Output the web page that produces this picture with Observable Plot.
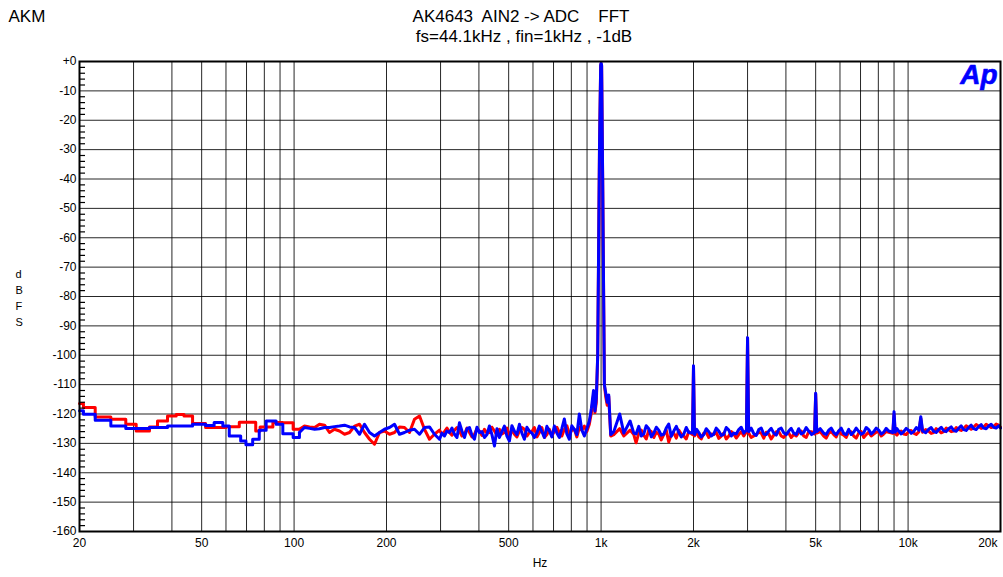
<!DOCTYPE html>
<html><head><meta charset="utf-8">
<script src="https://cdn.jsdelivr.net/npm/d3@7"></script>
<script src="https://cdn.jsdelivr.net/npm/@observablehq/plot@0.6"></script>
<style>
body{margin:0;background:#fff;}
svg text{white-space:pre;}
</style></head><body><div id="chart"></div>
<script>
// ---- Data ----
const lowFreqRed = [20, 20.6, 22.5, 25.3, 28.3, 30.6, 33.8, 35.9, 38.7, 41.3, 43.8, 46.7, 51.5, 60.0, 66.3, 75.0, 77.5, 85.3, 92.0, 99.3];
const lowDbRed   = [-116.4, -117.8, -121.0, -121.8, -123.5, -125.8, -124.4, -122.4, -120.7, -120.2, -120.7, -123.2, -124.6, -124.3, -122.8, -125.8, -124.4, -122.9, -123.0, -125.2];
const lowFreqBlue = [20, 20.6, 22.5, 25.3, 28.3, 33.8, 38.7, 46.7, 51.5, 54.9, 58.6, 61.5, 67.0, 69.7, 73.3, 77.0, 81.1, 87.4, 91.9, 99.3];
const lowDbBlue   = [-118.9, -120.1, -122.1, -124.1, -124.9, -124.6, -124.1, -123.5, -123.9, -122.9, -124.1, -127.5, -129.2, -130.5, -128.6, -125.5, -122.4, -123.5, -126.7, -128.0];

const midFreq = [104.1,108.1,112.3,116.6,121.0,125.7,130.4,135.4,140.6,146.0,151.6,157.4,163.4,169.6,176.1,182.8,189.8,197.0,204.6,212.4,220.5,228.9,237.7,246.7,256.2,265.9,276.1,286.6,297.6,308.9,320.7,333.0,345.7,358.9,372.6,386.8,401.6,416.9,432.8,449.4,466.5,484.3,502.8,522.0,541.9,562.6,584.1,606.4,629.5,653.6,678.5,704.4,731.3,759.2,788.2,818.3,849.6,882.0,915.6];
const midDbRed = [-125.2,-124.1,-124.4,-124.6,-123.5,-123.8,-126.3,-125.2,-125.8,-126.9,-126.3,-124.1,-123.5,-126.3,-128.6,-130.3,-126.3,-125.8,-126.9,-126.3,-124.4,-124.6,-126.3,-121.8,-120.7,-125.2,-128.6,-126.9,-125.5,-126.0,-126.3,-125.5,-125.8,-126.9,-126.3,-126.9,-125.8,-125.2,-126.3,-125.8,-125.2,-126.3,-127.5,-126.9,-125.8,-125.2,-126.3,-124.6,-126.3,-128.0,-125.2,-125.8,-126.3,-125.2,-126.9,-125.2,-124.6,-124.1,-123.5];
const midDbBlue = [-126.3,-124.6,-124.9,-125.2,-125.0,-124.6,-124.6,-124.3,-124.1,-123.8,-124.4,-124.6,-126.9,-123.5,-126.3,-127.5,-126.3,-125.2,-124.6,-123.5,-126.9,-126.3,-125.5,-125.2,-126.9,-124.6,-124.4,-126.9,-128.6,-127.5,-126.3,-126.9,-123.0,-128.0,-124.6,-128.6,-126.3,-128.0,-124.1,-130.9,-128.0,-124.1,-129.2,-125.8,-123.5,-128.6,-125.8,-128.0,-124.1,-128.0,-125.8,-124.1,-128.0,-121.7,-128.6,-125.2,-120.0,-127.5,-122.4];

// in-between readings of the dense noise, 300 Hz – 900 Hz
const midFreq2 = [303.2,314.7,326.8,339.3,352.2,365.7,379.7,394.1,409.2,424.8,441.0,457.9,475.3,493.5,512.3,531.9,552.2,573.3,595.2,617.9,641.4,666.0,691.3,717.7,745.1,773.6,803.1,833.8,865.7,898.7];
const midDbRed2 = [-127.0,-124.8,-127.2,-124.6,-127.5,-124.8,-127.8,-125.0,-127.3,-126.5,-124.5,-127.2,-126.8,-124.8,-125.5,-127.8,-124.6,-127.5,-126.0,-127.8,-124.6,-127.0,-127.5,-124.5,-127.5,-124.0,-125.5,-127.8,-125.5,-126.0];
const midDbBlue2 = [-126.5,-125.8,-124.8,-128.0,-125.8,-125.0,-127.2,-124.5,-126.0,-127.0,-127.0,-125.0,-126.0,-127.5,-124.0,-127.0,-126.5,-124.5,-126.5,-126.5,-126.0,-124.2,-127.8,-126.5,-125.0,-126.8,-124.0,-127.0,-125.5,-125.0];

const peakFreq   = [930, 945, 955, 965, 975, 988, 997, 1000, 1004, 1012, 1025, 1035, 1047, 1059, 1075];
const peakDbRed  = [-119.5, -113.5, -119.5, -116, -100, -30, -1.5, -0.8, -1.5, -40, -110, -114, -117, -114, -127.5];
const peakDbBlue = [-118, -112, -119, -114.5, -100, -30, -1.2, -0.5, -1.2, -40, -110, -112.7, -116, -113.5, -127];

const highFreq = [1100,1150,1186,1243,1278,1300,1327,1377,1430,1485,
  1541,1600,1661,1725,1791,1859,1930,1985,2000,2015,
  2081,2160,2243,2328,2417,2510,2606,2705,2808,2916,
  2975,3000,3025,3143,3263,3387,3517,3651,3790,3935,
  4085,4241,4403,4572,4746,4960,5000,5040,5311,5514,
  5725,5943,6170,6406,6651,6905,7169,7442,7727,8022,
  8328,8646,8920,9000,9080,9319,9675,10045,10429,10850,
  11000,11150,11670,12116,12579,13059,13558,14076,14614,15172,
  15752,16353,16978,17627,18300,19000,19725,20000];
const highDbBlue = [-126.0,-120.0,-126.5,-122.4,-126.5,-126.8,-124.2,-126.8,-125.0,-126.5,
  -125.5,-126.9,-123.4,-125.8,-126.3,-126.9,-126.3,-126.5,-103.6,-127.0,
  -126.3,-127.0,-126.0,-126.8,-125.8,-126.9,-125.5,-126.5,-125.3,-126.5,
  -125.5,-94.0,-126.0,-126.7,-125.3,-126.8,-125.8,-126.5,-125.2,-126.4,
  -125.8,-126.5,-125.0,-126.3,-125.8,-126.3,-112.9,-126.0,-126.5,-125.5,
  -126.3,-125.8,-126.6,-125.2,-126.2,-125.9,-126.4,-125.3,-126.0,-125.5,
  -126.2,-125.8,-126.3,-119.2,-126.2,-125.8,-126.0,-125.6,-126.0,-125.5,
  -120.9,-125.8,-125.2,-125.9,-125.3,-125.7,-125.0,-125.6,-124.9,-125.3,
  -124.6,-125.0,-124.3,-124.8,-124.1,-124.5,-124.0,-124.8];
const highDbRed = [-127.0,-125.0,-127.5,-125.5,-127.0,-129.8,-126.5,-127.2,-125.5,-128.0,
  -126.8,-127.0,-129.5,-126.5,-125.5,-127.5,-126.0,-127.0,-103.8,-127.5,
  -127.8,-126.5,-128.0,-127.0,-128.3,-126.5,-127.5,-126.8,-127.0,-127.5,
  -126.0,-94.2,-126.5,-127.5,-126.2,-128.2,-126.8,-127.2,-126.0,-128.0,
  -126.5,-127.0,-126.3,-127.5,-126.0,-126.8,-113.2,-126.5,-127.5,-126.5,
  -127.0,-125.8,-127.2,-126.0,-127.5,-126.5,-128.0,-126.2,-126.8,-126.0,
  -126.8,-126.2,-126.6,-120.0,-126.7,-126.3,-126.8,-126.0,-126.5,-126.0,
  -121.5,-126.2,-125.8,-126.3,-125.6,-126.0,-125.4,-125.8,-125.3,-125.0,
  -124.6,-124.5,-124.2,-124.5,-124.0,-124.3,-123.8,-124.5];

// in-between readings of the dense noise, 1.3 kHz – 20 kHz
const highFreq2 = [1352,1403,1457,1513,1570,1630,1693,1758,1825,1894,
  2048,2120,2201,2285,2372,2463,2557,2655,2756,2862,
  3083,3202,3324,3451,3583,3720,3862,4009,4162,4321,4487,4658,4850,
  5174,5411,5618,5833,6055,6287,6527,6777,7036,7304,7583,7873,8173,8485,
  9199,9495,9858,10235,10637,
  11410,11891,12346,12817,13306,13814,14343,14891,15459,16050,16663,17299,17960,18647,19359];
const highDbBlue2 = [-127.5,-124.0,-127.8,-124.5,-127.2,-124.8,-127.6,-124.2,-127.8,-124.6,
  -125.2,-127.8,-125.0,-127.5,-124.8,-127.3,-124.6,-127.5,-126.8,-124.5,
  -124.8,-127.3,-124.8,-127.0,-124.9,-127.2,-124.8,-127.0,-124.9,-127.0,-126.8,-124.6,-127.0,
  -125.0,-127.0,-124.8,-127.0,-124.8,-127.0,-127.0,-124.8,-126.9,-124.6,-126.8,-124.8,-126.8,-124.9,
  -125.0,-126.8,-124.9,-126.6,-124.6,
  -126.4,-124.6,-126.3,-124.5,-126.0,-124.4,-125.9,-124.0,-125.6,-123.8,-125.3,-123.6,-125.0,-123.5,-124.8];
const highDbRed2 = [-125.5,-128.5,-126.0,-126.2,-128.8,-125.5,-127.0,-128.2,-126.8,-128.5,
  -126.0,-128.5,-126.3,-126.8,-126.2,-127.5,-128.5,-126.0,-128.2,-126.0,
  -128.0,-127.0,-126.5,-126.2,-128.5,-126.0,-127.5,-126.8,-128.0,-127.5,-125.8,-128.0,-126.0,
  -126.0,-128.2,-126.0,-127.8,-126.8,-128.0,-126.0,-128.2,-126.0,-127.0,-127.5,-126.2,-127.5,-126.0,
  -127.2,-125.8,-127.0,-125.6,-127.0,
  -125.3,-126.6,-125.0,-126.4,-124.8,-126.0,-124.6,-125.6,-124.0,-125.2,-123.6,-124.9,-123.5,-124.6,-123.4];

// ---- Axes / grid ----
const xGrid = [30,40,50,60,70,80,90,100,200,300,400,500,600,700,800,900,1000,2000,3000,4000,5000,6000,7000,8000,9000,10000];
const xTicks = [20,50,100,200,500,1000,2000,5000,10000];
const xLabels = ["20","50","100","200","500","1k","2k","5k","10k"];
const xLastTick = [20000];
const xLastLabel = ["20k"];
const yTicks = [0,-10,-20,-30,-40,-50,-60,-70,-80,-90,-100,-110,-120,-130,-140,-150,-160];
const yLabels = ["+0","-10","-20","-30","-40","-50","-60","-70","-80","-90","-100","-110","-120","-130","-140","-150","-160"];
const yGrid = [-10,-20,-30,-40,-50,-60,-70,-80,-90,-100,-110,-120,-130,-140,-150];
const yMinor = [-2,-4,-6,-8,-12,-14,-16,-18,-22,-24,-26,-28,-32,-34,-36,-38,-42,-44,-46,-48,
  -52,-54,-56,-58,-62,-64,-66,-68,-72,-74,-76,-78,-82,-84,-86,-88,-92,-94,-96,-98,
  -102,-104,-106,-108,-112,-114,-116,-118,-122,-124,-126,-128,-132,-134,-136,-138,
  -142,-144,-146,-148,-152,-154,-156,-158];

const rows = (F, D) => F.map((f, i) => ({f, db: D[i]}));
const byF = (a, b) => a.f - b.f;
const redLow = rows(lowFreqRed, lowDbRed).concat(rows([midFreq[0]], [midDbRed[0]]));
const redRest = rows(midFreq, midDbRed).concat(rows(midFreq2, midDbRed2), rows(peakFreq, peakDbRed), rows(highFreq, highDbRed), rows(highFreq2, highDbRed2)).sort(byF);
const blueLow = rows(lowFreqBlue, lowDbBlue).concat(rows([midFreq[0]], [midDbBlue[0]]));
const blueRest = rows(midFreq, midDbBlue).concat(rows(midFreq2, midDbBlue2), rows(peakFreq, peakDbBlue), rows(highFreq, highDbBlue), rows(highFreq2, highDbBlue2)).sort(byF);

const RED = "#ff0000", BLUE = "#0000ff";
const font = "'Liberation Sans', Arial, Helvetica, sans-serif";
const plotW = 1003, mL = 79, mR = 3;
const minorTickLen = 6;

const chart = Plot.plot({
  width: plotW, height: 577,
  marginLeft: mL, marginRight: mR, marginTop: 61, marginBottom: 46,
  x: {type: "log", domain: [20, 20000], label: null, axis: null},
  y: {domain: [-160, 0], label: null, axis: null},
  style: {fontFamily: font, color: "#000", background: "#fff", overflow: "visible"},
  marks: [
    Plot.ruleX(xGrid, {stroke: "#000", strokeWidth: 1, strokeOpacity: 0.85}),
    Plot.ruleY(yGrid, {stroke: "#000", strokeWidth: 1, strokeOpacity: 0.85}),
    Plot.line(redLow, {x: "f", y: "db", curve: "step-after", stroke: RED, strokeWidth: 3}),
    Plot.line(redRest, {x: "f", y: "db", stroke: RED, strokeWidth: 3, strokeLinejoin: "round"}),
    Plot.line(blueLow, {x: "f", y: "db", curve: "step-after", stroke: BLUE, strokeWidth: 3}),
    Plot.line(blueRest, {x: "f", y: "db", stroke: BLUE, strokeWidth: 3, strokeLinejoin: "round"}),
    Plot.frame({stroke: "#000", strokeWidth: 2}),
    Plot.ruleY(yMinor, {y: d => d, stroke: "#000", strokeWidth: 1.2, insetRight: plotW - mL - mR - minorTickLen}),
    Plot.text(yTicks, {y: d => d, frameAnchor: "left", dx: -3, textAnchor: "end", fontSize: 12, text: (d, i) => yLabels[i]}),
    Plot.text(xTicks, {x: d => d, frameAnchor: "bottom", dy: 12, lineAnchor: "middle", fontSize: 12, text: (d, i) => xLabels[i]}),
    Plot.text(xLastTick, {x: d => d, frameAnchor: "bottom", dy: 12, dx: -3, lineAnchor: "middle", textAnchor: "end", fontSize: 12, text: (d, i) => xLastLabel[i]}),
    Plot.text(["AKM"], {text: d => d, frameAnchor: "top-left", dx: -71, dy: -45, lineAnchor: "middle", textAnchor: "start", fontSize: 17}),
    Plot.text(["AK4643  AIN2 -> ADC    FFT"], {text: d => d, frameAnchor: "top", dx: -19, dy: -45, lineAnchor: "middle", fontSize: 17}),
    Plot.text(["fs=44.1kHz , fin=1kHz , -1dB"], {text: d => d, frameAnchor: "top", dx: -16, dy: -25, lineAnchor: "middle", fontSize: 17}),
    Plot.text(["d\nB\nF\nS"], {text: d => d, frameAnchor: "left", dx: -64, fontSize: 11, lineHeight: 1.45}),
    Plot.text(["Hz"], {text: d => d, frameAnchor: "bottom", dx: 0, dy: 32, lineAnchor: "middle", fontSize: 12}),
    Plot.text(["Ap"], {text: d => d, frameAnchor: "top-right", dx: -3, dy: 14, lineAnchor: "middle", textAnchor: "end", fontSize: 28, fontWeight: "bold", fontStyle: "italic", fill: BLUE, stroke: BLUE, strokeWidth: 0.6})
  ]
});
document.getElementById("chart").appendChild(chart);
</script></body></html>
